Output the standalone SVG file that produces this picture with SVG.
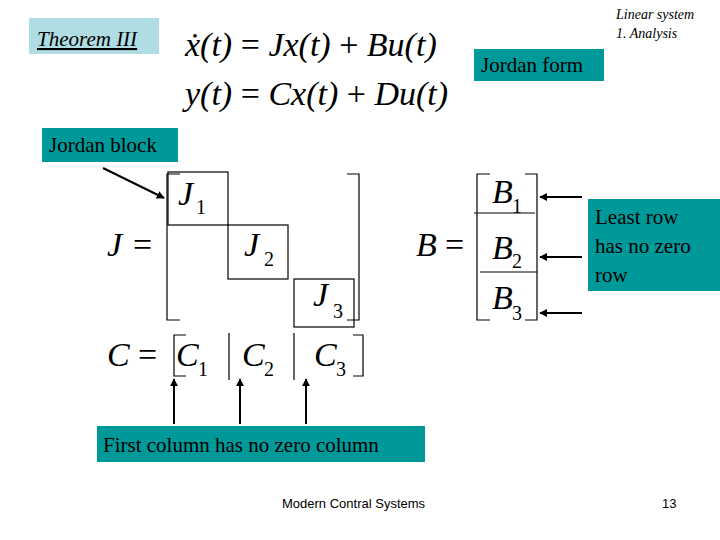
<svg xmlns="http://www.w3.org/2000/svg" width="720" height="540" viewBox="0 0 720 540" font-family="'Liberation Serif', 'Times New Roman', serif">
<defs>
<style>
text{font-family:'Liberation Serif','Times New Roman',serif}
.m{font-style:italic;font-size:34px;fill:#000}
.n{font-size:34px;fill:#000}
.sb{font-size:20px;font-style:normal;fill:#000}
.lb{font-size:21px;fill:#000}
.teal{fill:#009999}
.ln{stroke:#000;stroke-width:1.2;fill:none}
.ar{stroke:#000;stroke-width:2;fill:none;marker-end:url(#ah)}
.sans{font-family:'Liberation Sans',Arial,sans-serif}
</style>
<marker id="ah" viewBox="0 0 10 10" refX="9" refY="5" markerWidth="4" markerHeight="4" orient="auto"><path d="M0,0L10,5L0,10z" fill="#000"/></marker>
</defs>
<rect width="720" height="540" fill="#fff"/>
<g id="theorem"><rect x="29" y="18" width="130" height="36" fill="#b0dde4"/>
<text x="37" y="46" font-style="italic" font-size="21" text-decoration="underline">Theorem III</text></g>
<g id="title"><text x="616" y="19" font-style="italic" font-size="14">Linear system</text>
<text x="616" y="38" font-style="italic" font-size="14">1. Analysis</text></g>
<g id="eqs"><text class="m" x="185" y="56">ẋ(t) <tspan font-style="normal">=</tspan> Jx(t) <tspan font-style="normal">+</tspan> Bu(t)</text>
<text class="m" x="185" y="105">y(t) <tspan font-style="normal">=</tspan> Cx(t) <tspan font-style="normal">+</tspan> Du(t)</text></g>
<g id="jordanform"><rect class="teal" x="474" y="49" width="130" height="32"/><text class="lb" x="481" y="72">Jordan form</text></g>
<g id="jordanblock"><rect class="teal" x="42" y="128" width="136" height="34"/><text class="lb" x="49" y="152">Jordan block</text></g>
<g id="leastrow"><rect class="teal" x="588" y="199" width="132" height="92"/>
<text class="lb" x="595" y="224">Least row</text><text class="lb" x="595" y="253">has no zero</text><text class="lb" x="595" y="282">row</text></g>
<g id="firstcol"><rect class="teal" x="97" y="426" width="328" height="36"/><text class="lb" x="103" y="452">First column has no zero column</text></g>
<g id="Jmat">
<text class="m" x="107" y="256">J</text><text class="n" x="133" y="256">=</text>
<path class="ln" d="M180,174H167V320H180 M347,174H359V320H347"/>
<rect class="ln" x="168" y="172" width="60" height="53"/>
<rect class="ln" x="228" y="225" width="60" height="54"/>
<rect class="ln" x="294" y="279" width="60" height="48"/>
<text class="m" x="178" y="205">J</text><text class="sb" x="196" y="214">1</text>
<text class="m" x="244" y="256">J</text><text class="sb" x="264" y="266">2</text>
<text class="m" x="313" y="306">J</text><text class="sb" x="333" y="318">3</text>
</g>
<g id="Bmat">
<text class="m" x="416" y="256">B</text><text class="n" x="445" y="256">=</text>
<path class="ln" d="M490,174H477V320H490 M525,174H537V320H525"/>
<path class="ln" d="M474,213H535 M480,272H537"/>
<text class="m" x="492" y="203">B</text><text class="sb" x="512" y="213">1</text>
<text class="m" x="492" y="259">B</text><text class="sb" x="512" y="268">2</text>
<text class="m" x="492" y="309">B</text><text class="sb" x="512" y="320">3</text>
</g>
<g id="Cmat">
<text class="m" x="107" y="366">C</text><text class="n" x="138" y="366">=</text>
<path class="ln" d="M186,335H174V376H186 M353,335H363V376H353" stroke-width="2"/>
<path class="ln" d="M229,333V380 M294,333V380"/>
<text class="m" x="176" y="366">C</text><text class="sb" x="198" y="376">1</text>
<text class="m" x="242" y="366">C</text><text class="sb" x="264" y="376">2</text>
<text class="m" x="314" y="366">C</text><text class="sb" x="336" y="376">3</text>
</g>
<g id="connectors">
<line class="ar" x1="103" y1="168" x2="164" y2="198"/>
<line class="ar" x1="582" y1="197" x2="540" y2="197"/>
<line class="ar" x1="582" y1="257" x2="540" y2="257"/>
<line class="ar" x1="582" y1="313" x2="540" y2="313"/>
<line class="ar" x1="174" y1="424" x2="174" y2="379"/>
<line class="ar" x1="240" y1="424" x2="240" y2="379"/>
<line class="ar" x1="306" y1="424" x2="306" y2="379"/>
</g>
<g id="footer"><text class="sans" x="282" y="508" font-size="13">Modern Contral Systems</text>
<text class="sans" x="662" y="508" font-size="13">13</text></g>
</svg>
